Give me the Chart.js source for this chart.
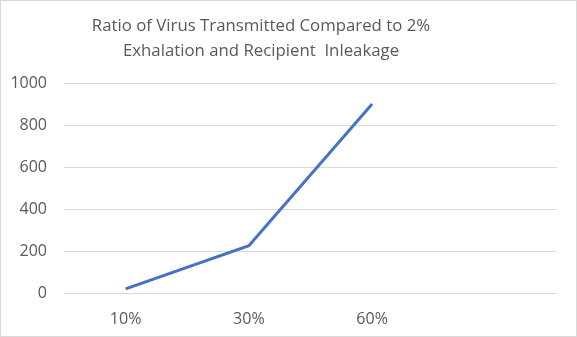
<!DOCTYPE html>
<html>
<head>
<meta charset="utf-8">
<script src="https://cdn.jsdelivr.net/npm/chart.js@4"></script>
<style>
  html, body { margin: 0; padding: 0; background: #fff; }
  #wrap {
    width: 577px;
    height: 337px;
    box-sizing: border-box;
    border: 1px solid #d9d9d9;
  }
  canvas { display: block; }
</style>
</head>
<body>
<div id="wrap"><canvas id="chart" width="575" height="335"></canvas></div>
<script>
const categories = ["10%", "30%", "60%", ""];
const ratios = [20, 225, 900, null];
const yTicks = [0, 200, 400, 600, 800, 1000];
const titleLines = ["Ratio of Virus Transmitted Compared to 2%", "Exhalation and Recipient  Inleakage"];

const textColor = "#595959";
const fontFamily = "'Open Sans', 'Noto Sans', sans-serif";

// title sits a bit left of the chart centre, so it is drawn by hand
const titlePlugin = {
  id: "offsetTitle",
  afterDraw: (chart) => {
    const c = chart.ctx;
    c.save();
    c.fillStyle = textColor;
    c.font = `16.8px ${fontFamily}`;
    c.textAlign = "center";
    c.textBaseline = "middle";
    titleLines.forEach((line, i) => c.fillText(line, 260, 25.5 + i * 25));
    c.restore();
  },
};

const ctx = document.getElementById("chart").getContext("2d");

new Chart(ctx, {
  type: "line",
  data: {
    labels: categories,
    datasets: [
      {
        label: "Ratio",
        data: ratios,
        borderColor: "#4472C4",
        borderWidth: 3,
        pointRadius: 0,
        tension: 0,
        fill: false,
      },
    ],
  },
  plugins: [titlePlugin],
  options: {
    responsive: false,
    animation: false,
    layout: {
      autoPadding: false,
      padding: { left: 7, right: 19, top: 82, bottom: 8 },
    },
    plugins: {
      legend: { display: false },
      tooltip: { enabled: false },
      title: { display: false },
    },
    scales: {
      x: {
        offset: true,
        afterFit: (scale) => {
          scale.height = 35;
        },
        grid: { display: false, drawTicks: false },
        border: { display: false },
        ticks: {
          color: textColor,
          font: { family: fontFamily, size: 16 },
          padding: 17,
          maxRotation: 0,
        },
      },
      y: {
        min: 0,
        max: 1000,
        afterBuildTicks: (scale) => {
          scale.ticks = yTicks.map((v) => ({ value: v }));
        },
        afterFit: (scale) => {
          scale.width = 56;
        },
        grid: { color: "#d9d9d9", lineWidth: 1, drawTicks: false },
        border: { display: false },
        ticks: {
          color: textColor,
          font: { family: fontFamily, size: 16 },
          padding: 17,
          callback: (v) => String(v),
        },
      },
    },
  },
});
</script>
</body>
</html>
